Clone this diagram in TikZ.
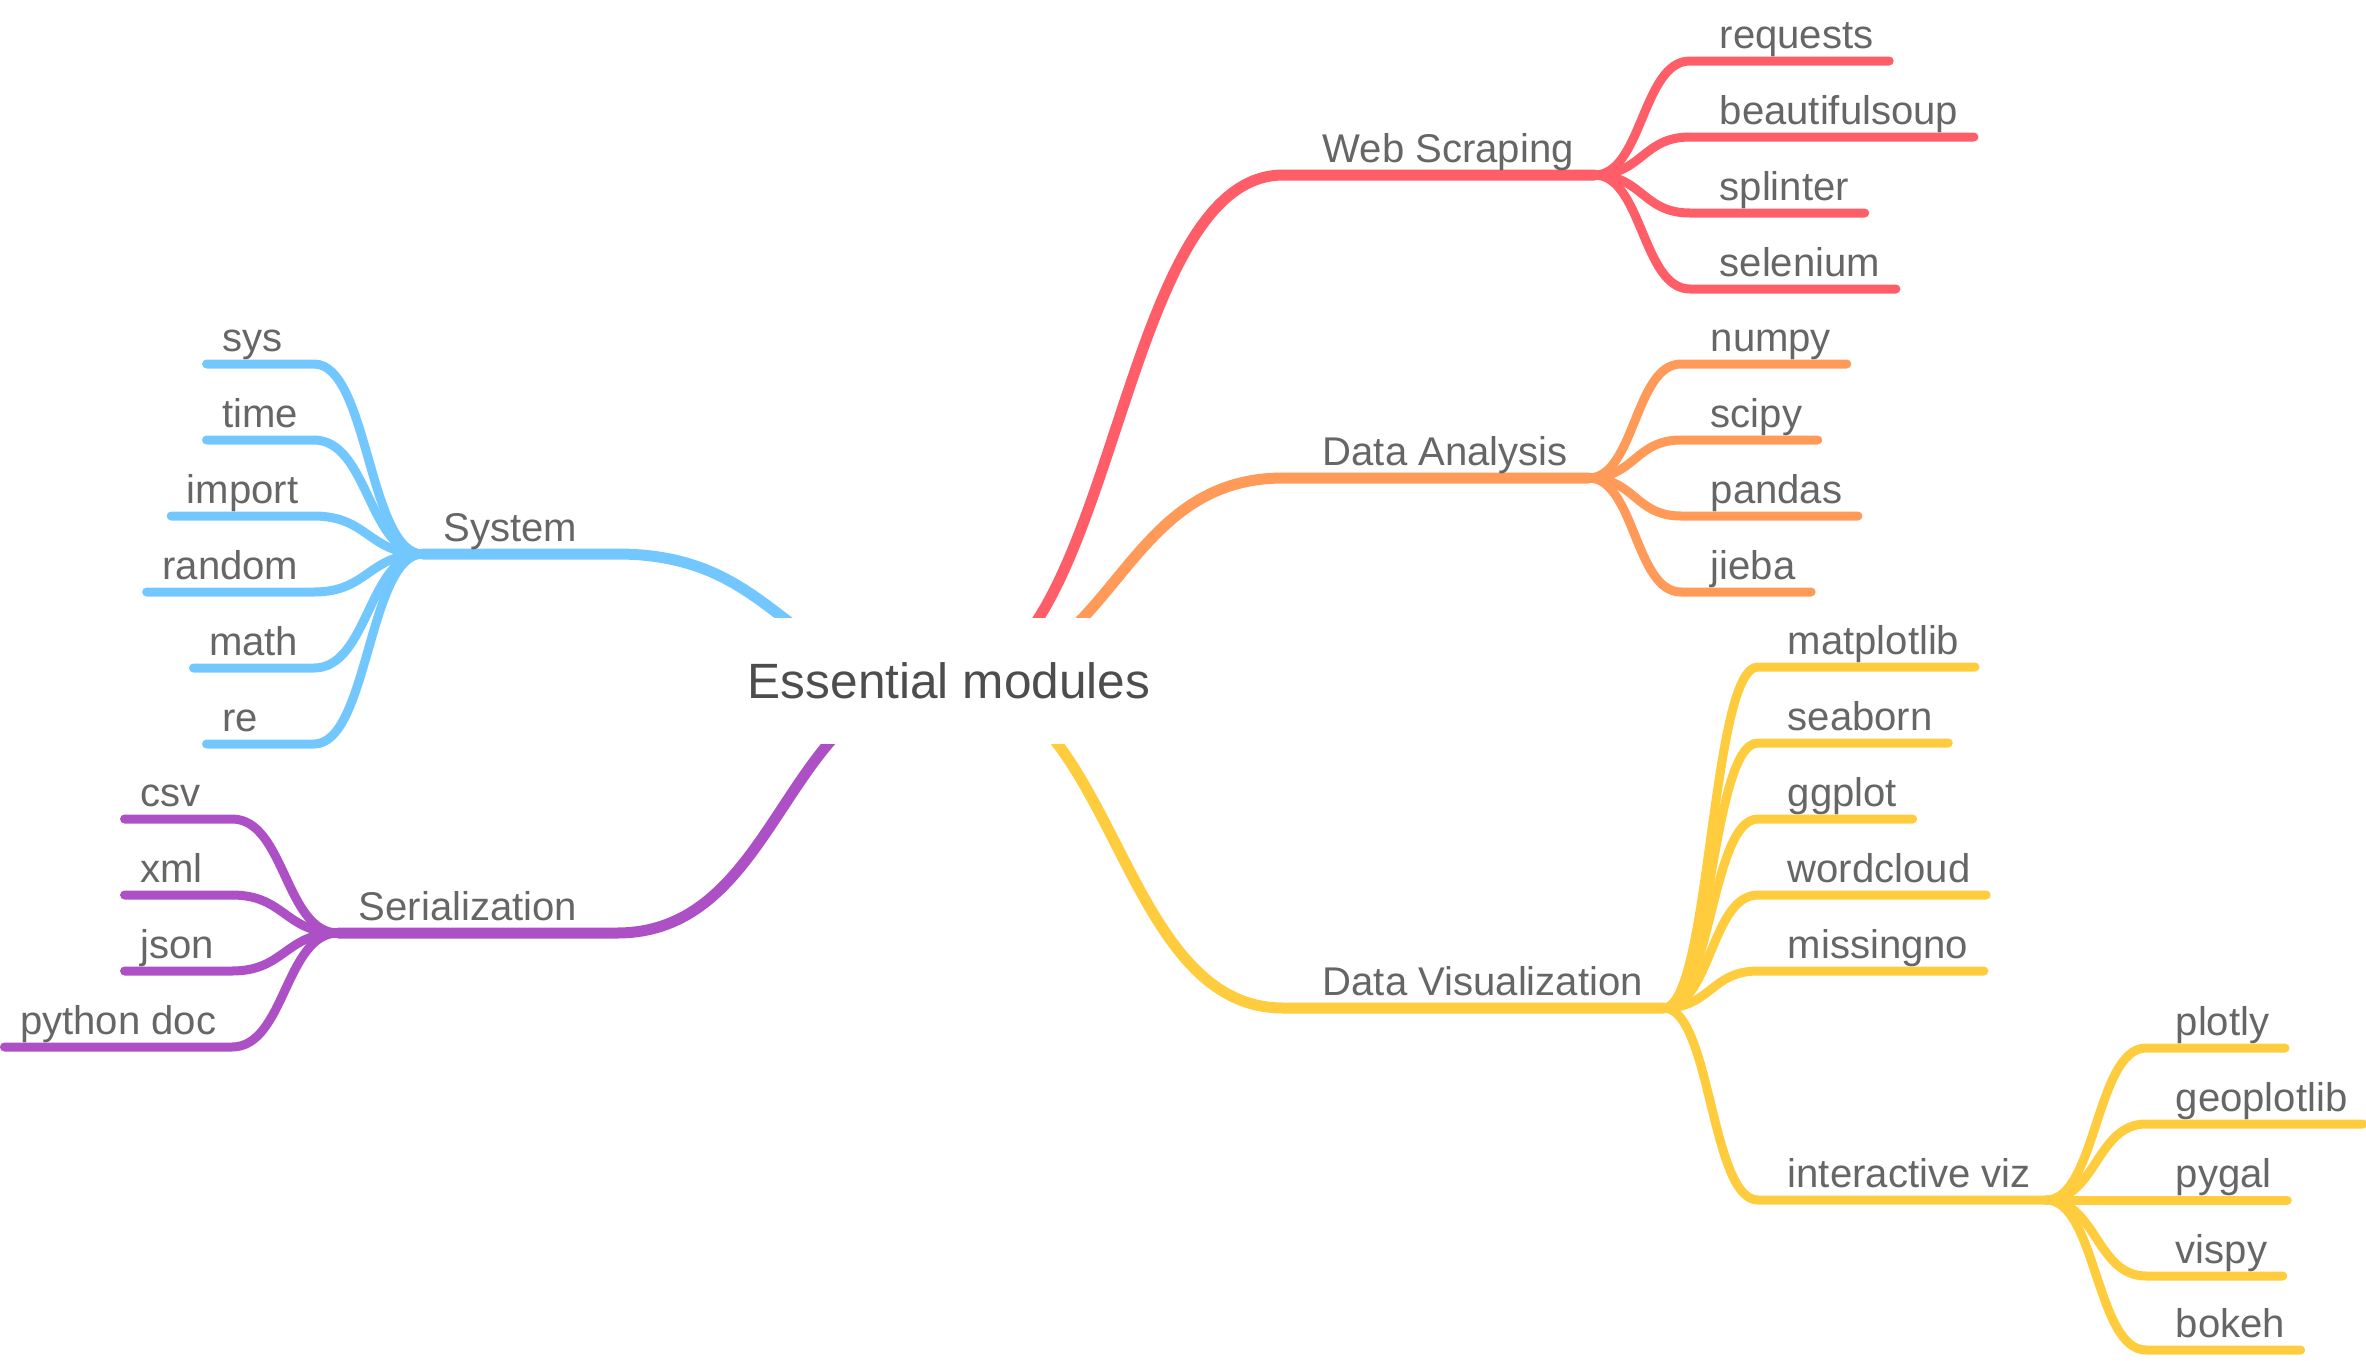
\documentclass[tikz,border=0pt]{standalone}
\usepackage{fontspec}
\setmainfont{Liberation Sans}
\usetikzlibrary{calc,backgrounds}

\definecolor{webred}{HTML}{FF5E69}
\definecolor{anaorange}{HTML}{FF9A58}
\definecolor{vizyellow}{HTML}{FFCC3D}
\definecolor{sysblue}{HTML}{73C7FF}
\definecolor{serpurple}{HTML}{AD50C6}
\definecolor{labelgray}{HTML}{666666}
\definecolor{rootgray}{HTML}{4D4D4D}

\begin{document}
\begin{tikzpicture}[x=0.01cm,y=-0.01cm,
  topic/.style={text=labelgray,font=\fontsize{11.4}{13}\selectfont,inner ysep=0pt,text depth=0.12cm},
  rbranch/.style={topic,anchor=south west,inner xsep=0.2cm,execute at begin node=\hspace*{0.19cm}},
  lbranch/.style={topic,anchor=south east,inner xsep=0.2cm,execute at end node=\hspace*{0.19cm}},
  rleaf/.style={topic,anchor=south west,inner xsep=0.15cm,execute at begin node=\hspace*{0.14cm}},
  lleaf/.style={topic,anchor=south east,inner xsep=0.15cm},
  short/.style={text width=0.76cm,align=left},
  trunk/.style={line width=0.11cm,line cap=round},
  twig/.style={line width=0.09cm,line cap=round},
  curve/.style={to path={let \p1=(\tikztostart),\p2=(\tikztotarget) in
    .. controls ({(\x1+\x2)/2},\y1) and ({(\x1+\x2)/2},\y2) .. (\tikztotarget)}}]
\useasboundingbox (0,0) rectangle (2366,1360);

\node[fill=white,minimum width=4.3cm,minimum height=1.25cm,inner sep=0pt,text=rootgray,
  font=\fontsize{14.1}{16}\selectfont] (root) at (949,681) {Essential modules};

% main topics
\node[rbranch] (web) at (1283,175) {Web Scraping};
\node[rbranch] (ana) at (1283,478) {Data Analysis};
\node[rbranch] (viz) at (1283,1008) {Data Visualization};
\node[lbranch] (system) at (617,554) {System};
\node[lbranch] (serial) at (617,933) {Serialization};

\begin{scope}[on background layer]
\draw[trunk,webred] (root.center) to[curve] (web.south west) -- (web.south east);
\draw[trunk,anaorange] (root.center) to[curve] (ana.south west) -- (ana.south east);
\draw[trunk,vizyellow] (root.center) to[curve] (viz.south west) -- (viz.south east);
\draw[trunk,sysblue] (root.center) to[curve] (system.south east) -- (system.south west);
\draw[trunk,serpurple] (root.center) to[curve] (serial.south east) -- (serial.south west);
\end{scope}

% Web Scraping
\foreach \lf/\y in {requests/61,beautifulsoup/137,splinter/213,selenium/289}{
  \node[rleaf] (\lf) at (1690,\y) {\lf};
  \draw[twig,webred] (web.south east) to[curve] (\lf.south west) -- (\lf.south east);
}

% Data Analysis
\foreach \lf/\y in {numpy/364,scipy/440,pandas/516,jieba/592}{
  \node[rleaf] (\lf) at (1681,\y) {\lf};
  \draw[twig,anaorange] (ana.south east) to[curve] (\lf.south west) -- (\lf.south east);
}

% Data Visualization
\node[rleaf] (iviz) at (1758,1200) {interactive viz};
\draw[twig,vizyellow] (viz.south east) to[curve] (iviz.south west) -- (iviz.south east);
\foreach \lf/\y in {matplotlib/667,seaborn/743,ggplot/819,wordcloud/895,missingno/971}{
  \node[rleaf] (\lf) at (1758,\y) {\lf};
  \draw[twig,vizyellow] (viz.south east) to[curve] (\lf.south west) -- (\lf.south east);
}
\foreach \lf/\y in {plotly/1048,geoplotlib/1124,pygal/1200,vispy/1276,bokeh/1350}{
  \node[rleaf] (\lf) at (2146,\y) {\lf};
  \draw[twig,vizyellow] (iviz.south east) to[curve] (\lf.south west) -- (\lf.south east);
}

% System
\foreach \lf/\y/\s in {sys/364/short,time/440/short,import/516/,random/592/,math/668/,re/744/short}{
  \node[lleaf,\s] (\lf) at (314,\y) {\lf};
  \draw[twig,sysblue] (system.south west) to[curve] (\lf.south east) -- (\lf.south west);
}

% Serialization
\node[lleaf] (pydoc) at (232,1047) {python doc};
\draw[twig,serpurple] (serial.south west) to[curve] (pydoc.south east) -- (pydoc.south west);
\foreach \lf/\y in {csv/819,xml/895,json/971}{
  \node[lleaf,short] (\lf) at (232,\y) {\lf};
  \draw[twig,serpurple] (serial.south west) to[curve] (\lf.south east) -- (\lf.south west);
}
\end{tikzpicture}
\end{document}
